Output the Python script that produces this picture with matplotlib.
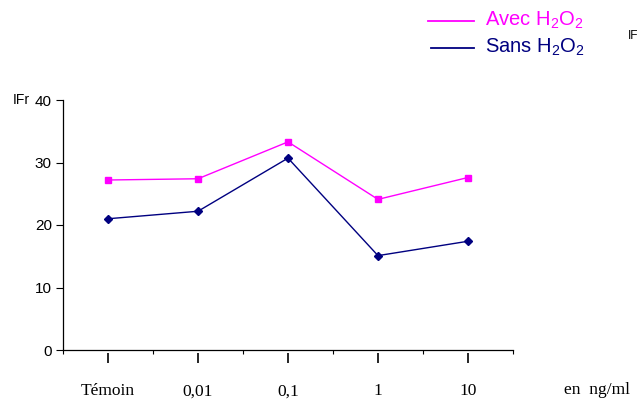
import matplotlib
matplotlib.use("Agg")
import matplotlib.pyplot as plt
from matplotlib.lines import Line2D
import matplotlib.transforms as mtransforms

plt.rcParams['font.family'] = ['Liberation Sans', 'DejaVu Sans']
plt.rcParams['mathtext.fontset'] = 'custom'
plt.rcParams['mathtext.rm'] = 'Liberation Sans'
plt.rcParams['mathtext.it'] = 'Liberation Sans'

categories = ["Témoin", "0,01", "0,1", "1", "10"]
avec_h2o2 = [27.2, 27.4, 33.3, 24.1, 27.6]
sans_h2o2 = [21.0, 22.2, 30.7, 15.1, 17.4]
y_ticks = [0, 10, 20, 30, 40]
series_labels = [r"Avec H$\mathregular{_2}$O$\mathregular{_2}$",
                 r"Sans H$\mathregular{_2}$O$\mathregular{_2}$"]

MAGENTA = "#FF00FF"
NAVY = "#000080"

W, H = 641, 405
fig = plt.figure(figsize=(W / 100, H / 100), dpi=100)
ax = fig.add_axes([63 / W, 55 / H, 450 / W, 250 / H])

xs = [i + 0.5 for i in range(len(categories))]
ax.plot(xs, avec_h2o2, color=MAGENTA, lw=1.0, marker='s', ms=5, mec=MAGENTA, mfc=MAGENTA)
ax.plot(xs, sans_h2o2, color=NAVY, lw=1.0, marker='D', ms=4.5, mec=NAVY, mfc=NAVY)

ax.set_xlim(0, len(categories))
ax.set_ylim(0, 40)
ax.set_yticks(y_ticks)
ax.set_yticklabels([str(v) for v in y_ticks], fontsize=11)
ax.tick_params(axis='y', direction='out', length=5, width=0.8, pad=3)

# boundary ticks on x
ax.set_xticks(range(len(categories) + 1))
ax.set_xticklabels([])
ax.tick_params(axis='x', direction='out', length=3, width=0.8)

for s in ['top', 'right']:
    ax.spines[s].set_visible(False)
for s in ['left', 'bottom']:
    ax.spines[s].set_linewidth(0.9)

# category marks and labels below the axis
trans = mtransforms.blended_transform_factory(ax.transData, ax.transAxes)
ax.vlines(xs, -0.012, -0.052, transform=trans, color='black', lw=1.2, clip_on=False)
for x, lab in zip(xs, categories):
    ax.text(x, -0.165, lab, transform=trans, ha='center', va='center',
            fontsize=12.5, family=['Liberation Serif', 'DejaVu Serif'])
fig.text(597 / W, 1 - 390 / H, "en  ng/ml", ha='center', va='center', fontsize=12.5,
         family=['Liberation Serif', 'DejaVu Serif'])

# small labels
fig.text(30 / W, 1 - 100 / H, "IFr", ha='right', va='center', fontsize=10)
fig.text(628 / W, 1 - 36 / H, "IF", ha='left', va='center', fontsize=8.5)

# legend (drawn manually to match the original layout)
legend_rows = [(MAGENTA, 428, 21, 26), (NAVY, 431, 48, 53)]
for (col, x0, ly, base), lab in zip(legend_rows, series_labels):
    fig.add_artist(Line2D([x0 / W, 474 / W], [1 - ly / H, 1 - ly / H],
                          transform=fig.transFigure, color=col, lw=1.3))
    fig.text(485 / W, 1 - base / H, lab, color=col, fontsize=14.5,
             ha='left', va='baseline')

fig.savefig("out.png", dpi=100)
